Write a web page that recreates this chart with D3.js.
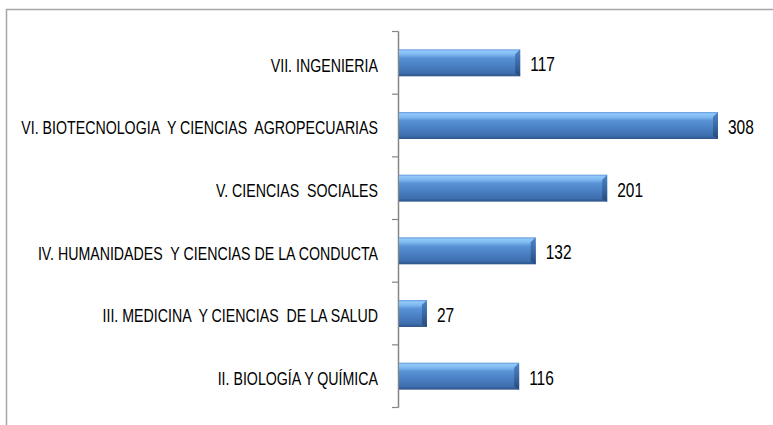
<!DOCTYPE html>
<html>
<head>
<meta charset="utf-8">
<script src="https://cdn.jsdelivr.net/npm/d3@7"></script>
<style>
  body { margin: 0; background: #fff; }
  text { font-family: "Liberation Sans", Arial, sans-serif; fill: #000; white-space: pre; }
</style>
</head>
<body>
<script>
const svgWidth = 773;
const svgHeight = 425;

// categories, top to bottom
const categories = [
  'VII. INGENIERIA',
  'VI. BIOTECNOLOGIA  Y CIENCIAS  AGROPECUARIAS',
  'V. CIENCIAS  SOCIALES',
  'IV. HUMANIDADES  Y CIENCIAS DE LA CONDUCTA',
  'III. MEDICINA  Y CIENCIAS  DE LA SALUD',
  'II. BIOLOGÍA Y QUÍMICA'
];
const values = [117, 308, 201, 132, 27, 116];

const svg = d3.select('body')
              .append('svg')
              .attr('width', svgWidth)
              .attr('height', svgHeight);

// chart frame (right and bottom edges fall outside the picture)
svg.append('rect')
   .attr('x', 6.5)
   .attr('y', 9.5)
   .attr('width', 900)
   .attr('height', 600)
   .attr('fill', 'none')
   .attr('stroke', '#a6a6a6')
   .attr('stroke-width', 1.5);

const defs = svg.append('defs');
const grad = defs.append('linearGradient')
                 .attr('id', 'barGrad')
                 .attr('x1', 0).attr('y1', 0).attr('x2', 0).attr('y2', 1);
[[0, '#5f97da'], [0.07, '#92c9fa'], [0.2, '#7cb6ef'], [0.32, '#5a92d6'],
 [0.6, '#4a80c4'], [0.88, '#3e6eae'], [1, '#2c5388']]
  .forEach(s => grad.append('stop').attr('offset', s[0]).attr('stop-color', s[1]));

const endGrad = defs.append('linearGradient')
                    .attr('id', 'endGrad')
                    .attr('x1', 0).attr('y1', 0).attr('x2', 0).attr('y2', 1);
[[0, '#4f84c6'], [0.5, '#3a69a6'], [1, '#264a7c']]
  .forEach(s => endGrad.append('stop').attr('offset', s[0]).attr('stop-color', s[1]));

const x = d3.scaleLinear()
            .domain([0, 350])
            .range([399, 399 + 350 * 1.0357]);

const y = d3.scaleBand()
            .domain(categories)
            .range([31.5, 407.5])
            .paddingInner(0.57)
            .paddingOuter(0.285);

// axis with ticks on band boundaries
const yEdge = d3.scaleLinear()
                .domain([0, categories.length])
                .range([31.5, 407.5]);

const axis = svg.append('g').attr('class', 'axis');
axis.append('line')
    .attr('x1', x(0) - 0.5).attr('x2', x(0) - 0.5)
    .attr('y1', yEdge(0)).attr('y2', yEdge(categories.length))
    .attr('stroke', '#868686').attr('stroke-width', 1.5);
axis.selectAll('line.tick')
    .data(d3.range(categories.length + 1))
    .enter()
    .append('line')
    .attr('class', 'tick')
    .attr('x1', x(0) - 7).attr('x2', x(0) - 0.5)
    .attr('y1', d => yEdge(d)).attr('y2', d => yEdge(d))
    .attr('stroke', '#868686').attr('stroke-width', 1.2);

const bars = svg.selectAll('g.bar')
                .data(values)
                .enter()
                .append('g')
                .attr('class', 'bar');

bars.append('rect')
    .attr('x', x(0))
    .attr('y', (d, i) => y(categories[i]))
    .attr('width', d => x(d) - x(0))
    .attr('height', y.bandwidth())
    .attr('fill', 'url(#barGrad)');

// darker bevel at the end of each bar
bars.append('path')
    .attr('d', (d, i) => {
      const xe = x(d), y0 = y(categories[i]), h = y.bandwidth();
      return `M${xe - 5},${y0 + 5} L${xe},${y0} L${xe},${y0 + h} L${xe - 5},${y0 + h - 3} Z`;
    })
    .attr('fill', 'url(#endGrad)');

bars.append('text')
    .attr('transform', (d, i) => `translate(${x(d) + 10},${y(categories[i]) + y.bandwidth() / 2 + 2}) scale(1,1.25)`)
    .attr('dominant-baseline', 'central')
    .style('font-size', '15.5px')
    .text(d => d);

svg.selectAll('text.cat')
   .data(categories)
   .enter()
   .append('text')
   .attr('class', 'cat')
   .attr('transform', d => `translate(378,${y(d) + y.bandwidth() / 2 + 2}) scale(1,1.28)`)
   .attr('text-anchor', 'end')
   .attr('dominant-baseline', 'central')
   .style('font-size', '14.2px')
   .text(d => d);
</script>
</body>
</html>
